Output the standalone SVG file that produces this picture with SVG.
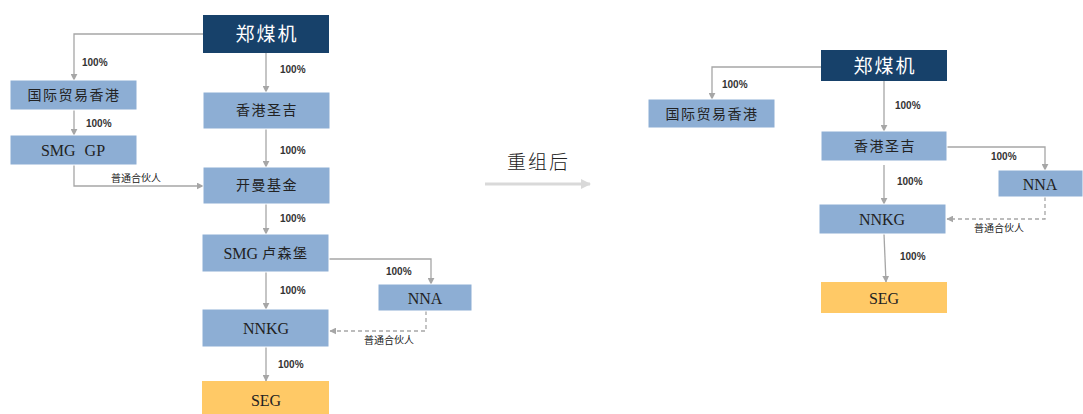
<svg xmlns="http://www.w3.org/2000/svg" width="1083" height="414" viewBox="0 0 1083 414">
<style>
.b{fill:#8DAED4;stroke:#ffffff;stroke-width:1}
.d{fill:#17416A}
.y{fill:#FFC966}
.t{font-family:"Liberation Serif","Noto Sans CJK SC",serif;font-size:14px;fill:#222;text-anchor:middle;dominant-baseline:central;letter-spacing:1.5px}
.l{font-family:"Liberation Serif","Noto Sans CJK SC",serif;font-size:16px;fill:#222;text-anchor:middle;dominant-baseline:central}
.w{font-family:"Liberation Serif","Noto Sans CJK SC",serif;font-size:19px;fill:#fff;text-anchor:middle;dominant-baseline:central;letter-spacing:2px}
.p{font-family:"Liberation Sans",Arial,sans-serif;font-size:10px;font-weight:bold;fill:#333}
.s{font-family:"Noto Sans CJK SC",sans-serif;font-size:10px;fill:#222}
.c{fill:none;stroke:#A6A6A6;stroke-width:1.3}
.dash{stroke-dasharray:4 3}
</style>
<defs>
<marker id="a" viewBox="0 0 10 10" refX="9" refY="5" markerWidth="7" markerHeight="7" orient="auto" markerUnits="userSpaceOnUse">
<path d="M0,0 L10,5 L0,10 z" fill="#A6A6A6"/>
</marker>
<marker id="a2" viewBox="0 0 10 10" refX="9" refY="5" markerWidth="10" markerHeight="10" orient="auto" markerUnits="userSpaceOnUse">
<path d="M0,0 L10,5 L0,10 z" fill="#D9D9D9"/>
</marker>
</defs>
<g id="connectors">
<path class="c" d="M203,34 H74 V80" marker-end="url(#a)"/>
<path class="c" d="M266,53 V92" marker-end="url(#a)"/>
<path class="c" d="M74,110 V135" marker-end="url(#a)"/>
<path class="c" d="M266,129 V167" marker-end="url(#a)"/>
<path class="c" d="M74,165 V186 H203" marker-end="url(#a)"/>
<path class="c" d="M266,204 V234" marker-end="url(#a)"/>
<path class="c" d="M329,259 H431 V284" marker-end="url(#a)"/>
<path class="c" d="M266,272 V309" marker-end="url(#a)"/>
<path class="c dash" d="M426,311 V331 H330" marker-end="url(#a)"/>
<path class="c" d="M266,347 V381" marker-end="url(#a)"/>
<path d="M485,184 H590" stroke="#D9D9D9" stroke-width="3" fill="none" marker-end="url(#a2)"/>
<path class="c" d="M821,67 H712 V99" marker-end="url(#a)"/>
<path class="c" d="M884,81 V131" marker-end="url(#a)"/>
<path class="c" d="M947,147 H1045 V170" marker-end="url(#a)"/>
<path class="c" d="M884,165 V204" marker-end="url(#a)"/>
<path class="c dash" d="M1045,197 V219 H947" marker-end="url(#a)"/>
<path class="c" d="M884,234 L886,282" marker-end="url(#a)"/>
<text class="p" x="82" y="66">100%</text>
<text class="p" x="280" y="73">100%</text>
<text class="p" x="86" y="127">100%</text>
<text class="p" x="280" y="154">100%</text>
<text class="s" x="111" y="182">普通合伙人</text>
<text class="p" x="280" y="222">100%</text>
<text class="p" x="386" y="275">100%</text>
<text class="p" x="280" y="294">100%</text>
<text class="s" x="364" y="344">普通合伙人</text>
<text class="p" x="278" y="368">100%</text>
<text class="p" x="722" y="88">100%</text>
<text class="p" x="895" y="109">100%</text>
<text class="p" x="991" y="160">100%</text>
<text class="p" x="897" y="185">100%</text>
<text class="s" x="974" y="232">普通合伙人</text>
<text class="p" x="900" y="260">100%</text>
<text x="507" y="160" font-family="Noto Sans CJK SC,sans-serif" font-size="19" font-weight="300" fill="#222" dominant-baseline="central" letter-spacing="2">重组后</text>
</g>
<g id="n-zmj-l"><rect class="d" x="203" y="15" width="126" height="38"/><text class="w" x="267" y="34">郑煤机</text></g>
<g id="n-gjmy-l"><rect class="b" x="10" y="80" width="127" height="30"/><text class="t" x="74" y="95">国际贸易香港</text></g>
<g id="n-smggp"><rect class="b" x="10" y="135" width="127" height="30"/><text class="l" x="73" y="150" word-spacing="5">SMG GP</text></g>
<g id="n-xgsj-l"><rect class="b" x="203" y="92" width="127" height="37"/><text class="t" x="267" y="110">香港圣吉</text></g>
<g id="n-kmjj"><rect class="b" x="203" y="167" width="127" height="37"/><text class="t" x="267" y="185">开曼基金</text></g>
<g id="n-smglsb"><rect class="b" x="202" y="234" width="127" height="38"/><text class="l" x="266" y="253"><tspan>SMG </tspan><tspan font-size="14" letter-spacing="1.5">卢森堡</tspan></text></g>
<g id="n-nna-l"><rect class="b" x="378" y="284" width="94" height="27"/><text class="l" x="425" y="298">NNA</text></g>
<g id="n-nnkg-l"><rect class="b" x="202" y="309" width="127" height="38"/><text class="l" x="266" y="328">NNKG</text></g>
<g id="n-seg-l"><rect class="y" x="202" y="381" width="127" height="33"/><text class="l" x="266" y="400">SEG</text></g>
<g id="n-gjmy-r"><rect class="b" x="648" y="99" width="127" height="29"/><text class="t" x="712" y="114">国际贸易香港</text></g>
<g id="n-zmj-r"><rect class="d" x="821" y="50" width="126" height="31"/><text class="w" x="885" y="66">郑煤机</text></g>
<g id="n-xgsj-r"><rect class="b" x="821" y="131" width="126" height="30"/><text class="t" x="885" y="146">香港圣吉</text></g>
<g id="n-nna-r"><rect class="b" x="998" y="170" width="85" height="27"/><text class="l" x="1040" y="184">NNA</text></g>
<g id="n-nnkg-r"><rect class="b" x="819" y="204" width="127" height="30"/><text class="l" x="882" y="219">NNKG</text></g>
<g id="n-seg-r"><rect class="y" x="821" y="282" width="126" height="31"/><text class="l" x="884" y="298">SEG</text></g>
</svg>
